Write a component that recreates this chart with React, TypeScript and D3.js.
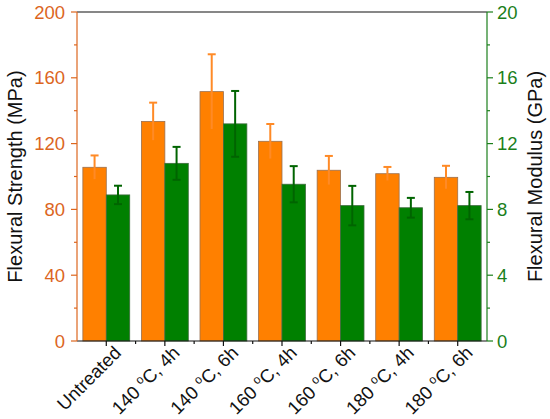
import React from 'react';
import * as d3 from 'd3';

// treatments on the x axis
const groups = ['Untreated', '140|4h', '140|6h', '160|4h', '160|6h', '180|4h', '180|6h'];

// flexural strength (MPa), left axis
const strength = [105.6, 133.5, 151.6, 121.4, 103.8, 101.7, 99.5];
const strengthErr = [7.2, 11.4, 22.7, 10.5, 8.7, 4.1, 7.0];

// flexural modulus (GPa), right axis
const modulus = [8.88, 10.8, 13.2, 9.53, 8.23, 8.1, 8.23];
const modulusErr = [0.56, 1.0, 2.0, 1.1, 1.2, 0.6, 0.83];

const leftTicks = [0, 40, 80, 120, 160, 200];
const leftMinor = [20, 60, 100, 140, 180];
const rightTicks = [0, 4, 8, 12, 16, 20];
const rightMinor = [2, 6, 10, 14, 18];

const W = 550;
const H = 419;
const margin = { top: 12, right: 63, bottom: 78, left: 77 };

const ORANGE = '#ff8000';
const GREEN = '#008000';
const LEFT_AXIS = '#dc661e';
const RIGHT_AXIS = '#1b7f1b';
const FONT = '"Liberation Sans", Arial, sans-serif';

function XLabel({ label, x, y }: { label: string; x: number; y: number }) {
  if (!label.includes('|')) {
    return (
      <text x={x} y={y} transform={`rotate(-45 ${x} ${y})`} textAnchor="end" fontSize={18.5} fill="#111">
        {label}
      </text>
    );
  }
  const [temp, time] = label.split('|');
  return (
    <text x={x} y={y} transform={`rotate(-45 ${x} ${y})`} textAnchor="end" fontSize={18.5} fill="#111">
      <tspan>{temp} </tspan>
      <tspan fontSize={12} dy={-7}>o</tspan>
      <tspan dy={7}>C, {time}</tspan>
    </text>
  );
}

export default function App() {
  const x0 = margin.left;
  const x1 = W - margin.right;
  const yTop = margin.top;
  const yBot = H - margin.bottom;

  const x = d3.scaleBand<string>().domain(groups).range([x0, x1]).paddingInner(0.2).paddingOuter(0.1);
  const sub = d3.scaleBand<string>().domain(['s', 'm']).range([0, x.bandwidth()]);
  const yL = d3.scaleLinear().domain([0, 200]).range([yBot, yTop]);
  const yR = d3.scaleLinear().domain([0, 20]).range([yBot, yTop]);
  const step = x.step();

  const capW = 8;

  return (
    <svg width={W} height={H} style={{ position: 'absolute', left: 0, top: 0, background: '#fff' }} fontFamily={FONT}>
      {/* bars */}
      {groups.map((g, i) => {
        const bx = x(g)!;
        const sx = bx + sub('s')!;
        const mx = bx + sub('m')!;
        const bw = sub.bandwidth();
        return (
          <g key={g}>
            <rect x={sx} y={yL(strength[i])} width={bw} height={yBot - yL(strength[i])}
              fill={ORANGE} stroke="#9a7050" strokeWidth={0.8} />
            <rect x={mx} y={yR(modulus[i])} width={bw} height={yBot - yR(modulus[i])}
              fill={GREEN} stroke="#3d6b3d" strokeWidth={0.8} />
            {/* error bars */}
            <line x1={sx + bw / 2} x2={sx + bw / 2} y1={yL(strength[i] - strengthErr[i])} y2={yL(strength[i] + strengthErr[i])}
              stroke="#ff8a26" strokeWidth={2} />
            <line x1={sx + bw / 2 - capW / 2} x2={sx + bw / 2 + capW / 2} y1={yL(strength[i] + strengthErr[i])} y2={yL(strength[i] + strengthErr[i])}
              stroke="#ff8a26" strokeWidth={2} />
            <line x1={mx + bw / 2} x2={mx + bw / 2} y1={yR(modulus[i] - modulusErr[i])} y2={yR(modulus[i] + modulusErr[i])}
              stroke="#006400" strokeWidth={2} />
            <line x1={mx + bw / 2 - capW / 2} x2={mx + bw / 2 + capW / 2} y1={yR(modulus[i] + modulusErr[i])} y2={yR(modulus[i] + modulusErr[i])}
              stroke="#006400" strokeWidth={2} />
            <line x1={mx + bw / 2 - capW / 2} x2={mx + bw / 2 + capW / 2} y1={yR(modulus[i] - modulusErr[i])} y2={yR(modulus[i] - modulusErr[i])}
              stroke="#006400" strokeWidth={2} />
          </g>
        );
      })}

      {/* top frame and bottom axis */}
      <line x1={x0} x2={x1} y1={yTop} y2={yTop} stroke="#111" strokeWidth={1.2} />
      <line x1={x0} x2={x1} y1={yBot} y2={yBot} stroke="#111" strokeWidth={1.2} />
      {groups.map((g) => {
        const cx = x(g)! + x.bandwidth() / 2;
        return <line key={g} x1={cx} x2={cx} y1={yBot} y2={yBot + 5} stroke="#111" strokeWidth={1.2} />;
      })}
      {d3.range(1, groups.length).map((k) => (
        <line key={k} x1={x0 + k * step} x2={x0 + k * step} y1={yBot} y2={yBot + 3} stroke="#111" strokeWidth={1.2} />
      ))}
      {groups.map((g) => {
        const cx = x(g)! + x.bandwidth() / 2;
        return <XLabel key={g} label={g} x={cx + 16} y={yBot + 13} />;
      })}

      {/* left axis */}
      <line x1={x0} x2={x0} y1={yTop} y2={yBot} stroke={LEFT_AXIS} strokeWidth={1.2} />
      {leftTicks.map((t) => (
        <g key={t}>
          <line x1={x0 - 6} x2={x0} y1={yL(t)} y2={yL(t)} stroke={LEFT_AXIS} strokeWidth={1.2} />
          <text x={x0 - 12} y={yL(t)} dy="0.36em" textAnchor="end" fontSize={18.5} fill={LEFT_AXIS}>{t}</text>
        </g>
      ))}
      {leftMinor.map((t) => (
        <line key={t} x1={x0 - 3} x2={x0} y1={yL(t)} y2={yL(t)} stroke={LEFT_AXIS} strokeWidth={1.2} />
      ))}
      <text transform={`translate(22,${(yTop + yBot) / 2}) rotate(-90)`} textAnchor="middle" fontSize={20} fill="#111">
        Flexural Strength (MPa)
      </text>

      {/* right axis */}
      <line x1={x1} x2={x1} y1={yTop} y2={yBot} stroke={RIGHT_AXIS} strokeWidth={1.2} />
      {rightTicks.map((t) => (
        <g key={t}>
          <line x1={x1} x2={x1 + 6} y1={yR(t)} y2={yR(t)} stroke={RIGHT_AXIS} strokeWidth={1.2} />
          <text x={x1 + 10} y={yR(t)} dy="0.36em" textAnchor="start" fontSize={18.5} fill={RIGHT_AXIS}>{t}</text>
        </g>
      ))}
      {rightMinor.map((t) => (
        <line key={t} x1={x1} x2={x1 + 3} y1={yR(t)} y2={yR(t)} stroke={RIGHT_AXIS} strokeWidth={1.2} />
      ))}
      <text transform={`translate(542,${(yTop + yBot) / 2}) rotate(-90)`} textAnchor="middle" fontSize={20} fill="#111">
        Flexural Modulus (GPa)
      </text>
    </svg>
  );
}
